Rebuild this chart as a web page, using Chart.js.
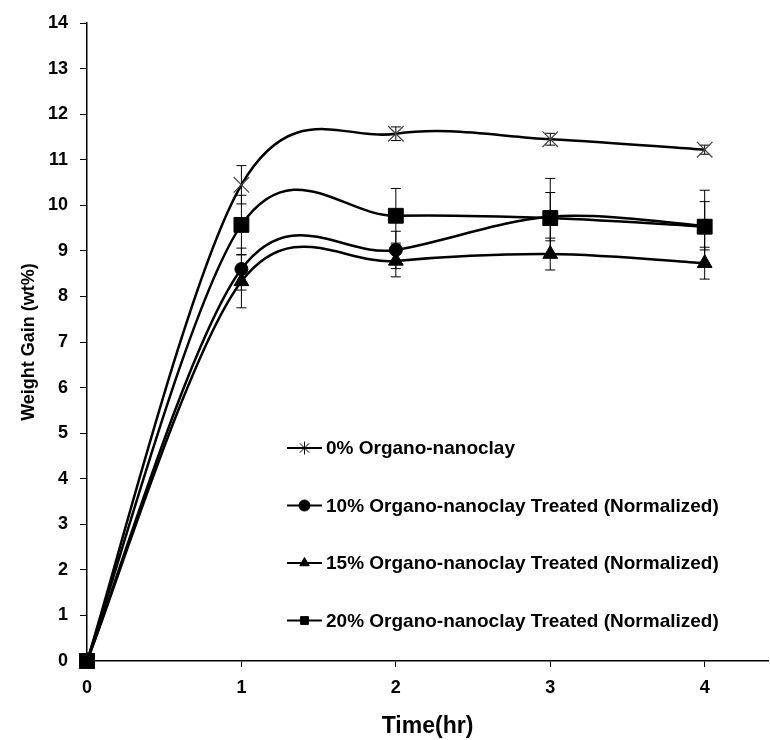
<!DOCTYPE html>
<html>
<head>
<meta charset="utf-8">
<script src="https://cdn.jsdelivr.net/npm/chart.js@4.4.1/dist/chart.umd.min.js"></script>
<style>
html,body{margin:0;padding:0;background:#fff;}
#wrap{width:770px;height:740px;}
</style>
</head>
<body>
<div id="wrap"><canvas id="gainChart" width="770" height="740"></canvas></div>
<script>
// time points (hr)
const timeHours = [0, 1, 2, 3, 4];

const seriesLabels = [
  '0% Organo-nanoclay',
  '10% Organo-nanoclay Treated (Normalized)',
  '15% Organo-nanoclay Treated (Normalized)',
  '20% Organo-nanoclay Treated (Normalized)'
];

// weight gain (wt%)
const gain0 = [0, 10.45, 11.57, 11.45, 11.22];
const gain10 = [0, 8.60, 9.02, 9.75, 9.55];
const gain15 = [0, 8.33, 8.78, 8.93, 8.73];
const gain20 = [0, 9.57, 9.77, 9.72, 9.53];

// +/- error
const err0 = [0, 0.42, 0.15, 0.13, 0.10];
const err10 = [0, 0.46, 0.41, 0.53, 0.53];
const err15 = [0, 0.58, 0.35, 0.35, 0.35];
const err20 = [0, 0.65, 0.60, 0.87, 0.80];

const yTicks = [0, 1, 2, 3, 4, 5, 6, 7, 8, 9, 10, 11, 12, 13, 14];
const xTicks = [0, 1, 2, 3, 4];

const FONT = '"Liberation Sans", Arial, sans-serif';

function toPoints(vals){
  return timeHours.map((t, i) => ({x: t, y: vals[i]}));
}

function makeSet(label, vals, errs, style, radius, pointColor, order){
  return {
    label: label,
    data: toPoints(vals),
    errors: errs,
    order: order,
    clip: false,
    borderColor: '#000',
    borderWidth: 2.5,
    tension: 0.4,
    fill: false,
    pointStyle: style,
    pointRadius: radius,
    pointBackgroundColor: pointColor,
    pointBorderColor: pointColor,
    pointBorderWidth: style === 'crossRot' ? 1.2 : 1
  };
}

// Excel-like smoothing (Catmull-Rom) on the pixel positions the scales give
const smoothLines = {
  id: 'smoothLines',
  beforeDatasetsDraw(chart){
    chart.data.datasets.forEach((ds, di) => {
      const meta = chart.getDatasetMeta(di);
      meta.dataset.updateControlPoints(chart.chartArea, 'x');
      const pts = meta.data;
      pts.forEach((p, i) => {
        const prev = pts[i - 1] || p;
        const next = pts[i + 1] || p;
        const dx = (next.x - prev.x) / 6;
        const dy = (next.y - prev.y) / 6;
        p.cp1x = p.x - dx; p.cp1y = p.y - dy;
        p.cp2x = p.x + dx; p.cp2y = p.y + dy;
      });
      meta.dataset._path = undefined;
    });
  }
};

const errorBars = {
  id: 'errorBars',
  beforeDatasetsDraw(chart){
    const ctx = chart.ctx;
    const x = chart.scales.x;
    const y = chart.scales.y;
    ctx.save();
    ctx.strokeStyle = '#000';
    ctx.lineWidth = 1;
    chart.data.datasets.forEach(ds => {
      ds.data.forEach((p, i) => {
        const e = ds.errors[i];
        if(!e) return;
        const px = x.getPixelForValue(p.x);
        const top = y.getPixelForValue(p.y + e);
        const bot = y.getPixelForValue(p.y - e);
        ctx.beginPath();
        ctx.moveTo(px, top); ctx.lineTo(px, bot);
        ctx.moveTo(px - 5, top); ctx.lineTo(px + 5, top);
        ctx.moveTo(px - 5, bot); ctx.lineTo(px + 5, bot);
        ctx.stroke();
      });
    });
    ctx.restore();
  }
};

// legend drawn inside the plot, one item per row
const innerLegend = {
  id: 'innerLegend',
  afterDraw(chart){
    const ctx = chart.ctx;
    const area = chart.chartArea;
    const left = area.left + 200;
    const top = area.top + 425;
    const rowGap = 57.5;
    ctx.save();
    ctx.font = 'bold 19px ' + FONT;
    ctx.textBaseline = 'middle';
    chart.data.datasets.forEach((ds, i) => {
      const cy = top + i * rowGap;
      ctx.strokeStyle = '#000';
      ctx.lineWidth = 2;
      ctx.beginPath();
      ctx.moveTo(left, cy);
      ctx.lineTo(left + 35, cy);
      ctx.stroke();
      ctx.fillStyle = '#000';
      ctx.lineWidth = 1;
      Chart.helpers.drawPoint(ctx, {
        pointStyle: ds.pointStyle === 'crossRot' ? 'star' : ds.pointStyle,
        radius: ds.pointStyle === 'crossRot' ? 6.5 : 5.5,
        rotation: 0,
        borderWidth: 1
      }, left + 17.5, cy);
      ctx.fillStyle = '#000';
      ctx.fillText(ds.label, left + 39, cy + 1);
    });
    ctx.restore();
  }
};

const ctx = document.getElementById('gainChart').getContext('2d');

new Chart(ctx, {
  type: 'line',
  data: {
    datasets: [
      makeSet(seriesLabels[0], gain0, err0, 'crossRot', 11, '#444', 3),
      makeSet(seriesLabels[1], gain10, err10, 'circle', 6.5, '#000', 2),
      makeSet(seriesLabels[2], gain15, err15, 'triangle', 8.5, '#000', 1),
      makeSet(seriesLabels[3], gain20, err20, 'rect', 10.5, '#000', 0)
    ]
  },
  options: {
    responsive: false,
    animation: false,
    layout: {autoPadding: false, padding: {top: 23, right: 2, left: 0, bottom: 0}},
    plugins: {
      legend: {display: false},
      tooltip: {enabled: false}
    },
    scales: {
      x: {
        type: 'linear',
        min: 0,
        max: 4.41,
        afterBuildTicks: s => { s.ticks = xTicks.map(v => ({value: v})); },
        afterFit: s => { s.height = 79; s.paddingRight = 0; s.paddingLeft = 0; },
        ticks: {
          color: '#000',
          padding: 10,
          font: {family: FONT, size: 18, weight: 'bold'}
        },
        grid: {drawOnChartArea: false, drawTicks: true, tickLength: 6, color: '#000'},
        border: {display: true, color: '#000', width: 1.5},
        title: {
          display: true,
          text: 'Time(hr)',
          color: '#000',
          font: {family: FONT, size: 23, weight: 'bold'},
          padding: {top: 0, bottom: 0}
        }
      },
      y: {
        min: 0,
        max: 14,
        afterBuildTicks: s => { s.ticks = yTicks.map(v => ({value: v})); },
        afterFit: s => { s.width = 87; },
        ticks: {
          color: '#000',
          padding: 12,
          font: {family: FONT, size: 18, weight: 'bold'}
        },
        grid: {drawOnChartArea: false, drawTicks: true, tickLength: 7, color: '#000'},
        border: {display: true, color: '#000', width: 1.5},
        title: {
          display: true,
          text: 'Weight Gain (wt%)',
          color: '#000',
          font: {family: FONT, size: 18, weight: 'bold'},
          padding: {top: 18, bottom: 0}
        }
      }
    }
  },
  plugins: [smoothLines, errorBars, innerLegend]
});
</script>
</body>
</html>
